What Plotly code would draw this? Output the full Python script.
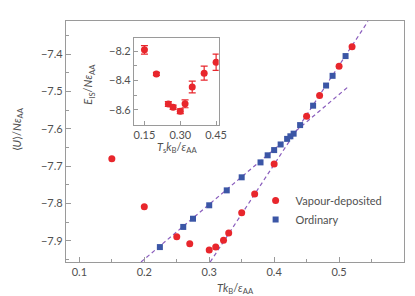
import plotly.graph_objects as go

# Main panel data
vap_T = [0.15, 0.20, 0.25, 0.27, 0.30, 0.31, 0.322, 0.33, 0.35, 0.37, 0.40, 0.45, 0.47, 0.50, 0.52]
vap_U = [-7.680, -7.809, -7.889, -7.908, -7.925, -7.917, -7.899, -7.879, -7.825, -7.775, -7.694, -7.566, -7.511, -7.432, -7.380]

ord_T = [0.224, 0.26, 0.275, 0.30, 0.327, 0.35, 0.379, 0.39, 0.40, 0.41, 0.42, 0.425, 0.43, 0.44, 0.46, 0.48, 0.49, 0.51]
ord_U = [-7.917, -7.863, -7.841, -7.805, -7.765, -7.730, -7.690, -7.671, -7.657, -7.642, -7.627, -7.620, -7.613, -7.590, -7.538, -7.484, -7.458, -7.405]

# Fit lines (endpoints)
fit1_T = [0.195, 0.5135]
fit1_U = [-7.957, -7.488]
fit2_T = [0.3015, 0.5445]
fit2_U = [-7.957, -7.312]

# Inset data
ins_T = [0.15, 0.20, 0.25, 0.27, 0.30, 0.32, 0.35, 0.40, 0.45]
ins_E = [-8.19, -8.355, -8.561, -8.584, -8.611, -8.56, -8.445, -8.35, -8.275]
ins_err = [0.029, 0.011, 0.016, 0.015, 0.016, 0.027, 0.04, 0.048, 0.056]

x_ticks = [0.1, 0.2, 0.3, 0.4, 0.5]
y_ticks = [-7.9, -7.8, -7.7, -7.6, -7.5, -7.4]
ins_x_ticks = [0.15, 0.30, 0.45]
ins_x_labels = ["0.15", "0.30", "0.45"]
ins_y_ticks = [-8.6, -8.4, -8.2]

RED = "#e8262c"
BLUE = "#3b56a6"
PURPLE = "#8a5dbd"
FRAME = "#9a9a9a"
TXT = "#505050"
FONT = "Lato"

fig = go.Figure()
fig.add_trace(go.Scatter(x=fit1_T, y=fit1_U, mode="lines", showlegend=False,
                         line=dict(color=PURPLE, width=1.2, dash="4px,3px")))
fig.add_trace(go.Scatter(x=fit2_T, y=fit2_U, mode="lines", showlegend=False,
                         line=dict(color=PURPLE, width=1.2, dash="4px,3px")))
fig.add_trace(go.Scatter(x=vap_T, y=vap_U, mode="markers", name="Vapour-deposited",
                         marker=dict(color=RED, size=7, symbol="circle", line=dict(width=0))))
fig.add_trace(go.Scatter(x=ord_T, y=ord_U, mode="markers", name="Ordinary",
                         marker=dict(color=BLUE, size=6, symbol="square", line=dict(width=0))))
fig.add_trace(go.Scatter(x=ins_T, y=ins_E, mode="markers", showlegend=False,
                         xaxis="x2", yaxis="y2",
                         marker=dict(color=RED, size=7, symbol="circle", line=dict(width=0)),
                         error_y=dict(type="data", array=ins_err, color=RED, thickness=1.2, width=3.5)))

axis_common = dict(showline=True, mirror=True, linecolor=FRAME, linewidth=1.2,
                   ticks="inside", tickcolor=FRAME, tickwidth=1, showgrid=False,
                   zeroline=False, tickfont=dict(family=FONT, size=11, color=TXT))

fig.update_layout(
    width=415, height=296,
    margin=dict(l=58, r=11, t=13, b=42),
    plot_bgcolor="white", paper_bgcolor="white",
    font=dict(family=FONT, size=11, color=TXT),
    xaxis=dict(range=[0.0794, 0.6], tickvals=x_ticks, ticklen=5,
               minor=dict(ticks="inside", dtick=0.05, tick0=0.05, ticklen=3, tickcolor=FRAME),
               **axis_common),
    yaxis=dict(range=[-7.957, -7.311], tickvals=y_ticks, ticklen=5,
               minor=dict(ticks="inside", dtick=0.05, tick0=-7.95, ticklen=3, tickcolor=FRAME),
               **axis_common),
    xaxis2=dict(domain=[0.2014, 0.4517], anchor="y2", range=[0.1066, 0.4607],
                tickvals=ins_x_ticks, ticktext=ins_x_labels, ticklen=4,
                **axis_common),
    yaxis2=dict(domain=[0.5697, 0.9295], anchor="x2", range=[-8.703, -8.109],
                tickvals=ins_y_ticks, ticklen=4,
                minor=dict(ticks="inside", dtick=0.1, tick0=-8.7, ticklen=3, tickcolor=FRAME),
                **axis_common),
    legend=dict(x=0.561, y=0.3155, xanchor="left", yanchor="top",
                bgcolor="rgba(0,0,0,0)", borderwidth=0, tracegroupgap=0,
                font=dict(family=FONT, size=11, color=TXT)),
    annotations=[
        dict(text="<i>Tk</i><sub>B</sub>/<i>ε</i><sub>AA</sub>", xref="paper", yref="paper",
             x=0.5, y=-0.11, xanchor="center", yanchor="middle", showarrow=False,
             font=dict(family=FONT, size=11, color=TXT)),
        dict(text="⟨<i>U</i>⟩/<i>Nε</i><sub>AA</sub>", xref="paper", yref="paper",
             x=-0.145, y=0.55, xanchor="center", yanchor="middle", showarrow=False,
             textangle=-90, font=dict(family=FONT, size=11, color=TXT)),
        dict(text="<i>T</i><sub>s</sub><i>k</i><sub>B</sub>/<i>ε</i><sub>AA</sub>", xref="paper", yref="paper",
             x=0.327, y=0.475, xanchor="center", yanchor="middle", showarrow=False,
             font=dict(family=FONT, size=11, color=TXT)),
        dict(text="<i>E</i><sub>IS</sub>/<i>Nε</i><sub>AA</sub>", xref="paper", yref="paper",
             x=0.068, y=0.74, xanchor="center", yanchor="middle", showarrow=False,
             textangle=-90, font=dict(family=FONT, size=11, color=TXT)),
    ],
)

fig.write_html("out.html")
